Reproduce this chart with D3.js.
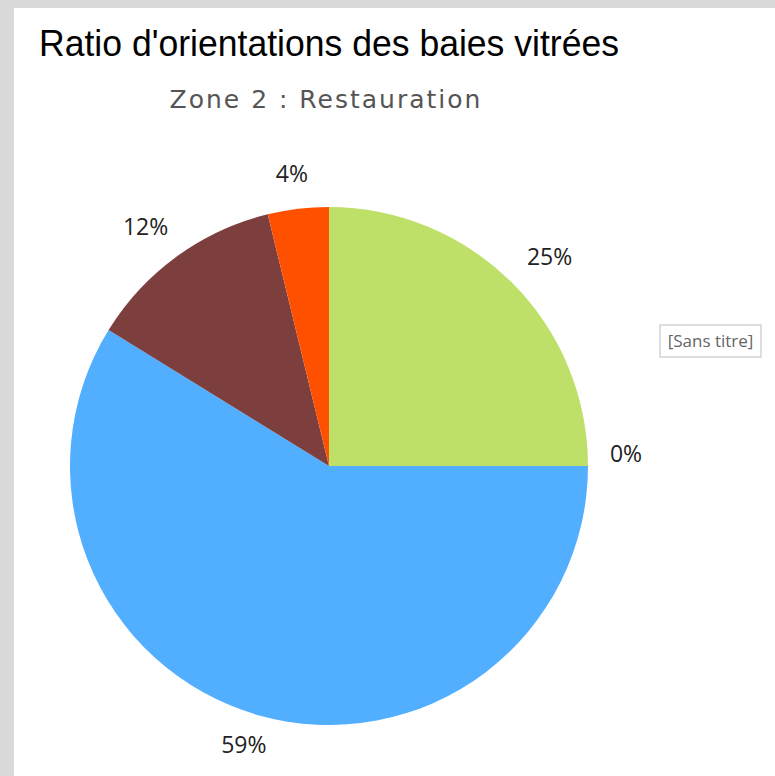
<!DOCTYPE html>
<html><head><meta charset="utf-8">
<script src="https://cdn.jsdelivr.net/npm/d3@7"></script>
<style>
html,body{margin:0;padding:0;background:#d9d9d9;}
svg{display:block;}
</style></head>
<body>
<script>
const categories = ["Sud", "Est", "Ouest", "Nord", "Autre"];
const values = [25.0, 0.0, 58.8, 12.4, 3.8];
const labels = ["25%", "0%", "59%", "12%", "4%"];
const colors = ["#bee068", "#e0e0e0", "#52aeff", "#7d3e3e", "#ff5000"];
const title = "Ratio d'orientations des baies vitrées";
const subtitle = "Zone 2 : Restauration";
const legendText = "[Sans titre]";

const W = 775, H = 776;
const svg = d3.select("body").append("svg").attr("width", W).attr("height", H);
svg.append("rect").attr("x", 0).attr("y", 0).attr("width", W).attr("height", H).attr("fill", "#d9d9d9");
svg.append("rect").attr("x", 14).attr("y", 8).attr("width", W - 14).attr("height", H - 8).attr("fill", "#ffffff");

svg.append("text").attr("x", 39).attr("y", 56)
  .attr("font-family", "Liberation Sans, Arial, sans-serif").attr("font-size", 36)
  .attr("textLength", 580).attr("lengthAdjust", "spacingAndGlyphs")
  .attr("fill", "#000").text(title);

svg.append("text").attr("x", 326).attr("y", 108).attr("text-anchor", "middle")
  .attr("font-family", "DejaVu Sans, sans-serif").attr("font-size", 25)
  .attr("letter-spacing", 2).attr("fill", "#555").text(subtitle);

const cx = 329, cy = 466, R = 259, LR = 300;
const pie = d3.pie().sort(null).value(d => d)(values);
const arc = d3.arc().innerRadius(0).outerRadius(R);
const g = svg.append("g").attr("transform", `translate(${cx},${cy})`);
g.selectAll("path").data(pie).enter().append("path")
  .attr("d", arc).attr("fill", (d, i) => colors[i]);

const labelArc = d3.arc().innerRadius(LR).outerRadius(LR);
g.selectAll("text.lbl").data(pie).enter().append("text").attr("class", "lbl")
  .attr("transform", d => {
    const c = labelArc.centroid(d);
    const zero = d.endAngle === d.startAngle;
    return `translate(${zero ? c[0] * 0.99 : c[0] * 1.04},${zero ? c[1] - 12 : c[1] * 0.975 - 2})`;
  })
  .attr("text-anchor", "middle").attr("dy", "0.35em")
  .attr("font-family", "Open Sans, sans-serif").attr("font-size", 23)
  .attr("fill", "#222").text((d, i) => labels[i]);

const lg = svg.append("g");
lg.append("rect").attr("x", 660).attr("y", 325).attr("width", 101).attr("height", 32)
  .attr("fill", "#fff").attr("stroke", "#c8c8c8").attr("stroke-width", 1.2);
lg.append("text").attr("x", 710.5).attr("y", 347).attr("text-anchor", "middle")
  .attr("font-family", "Open Sans, sans-serif").attr("font-size", 17)
  .attr("fill", "#666").text(legendText);
</script>
</body></html>
